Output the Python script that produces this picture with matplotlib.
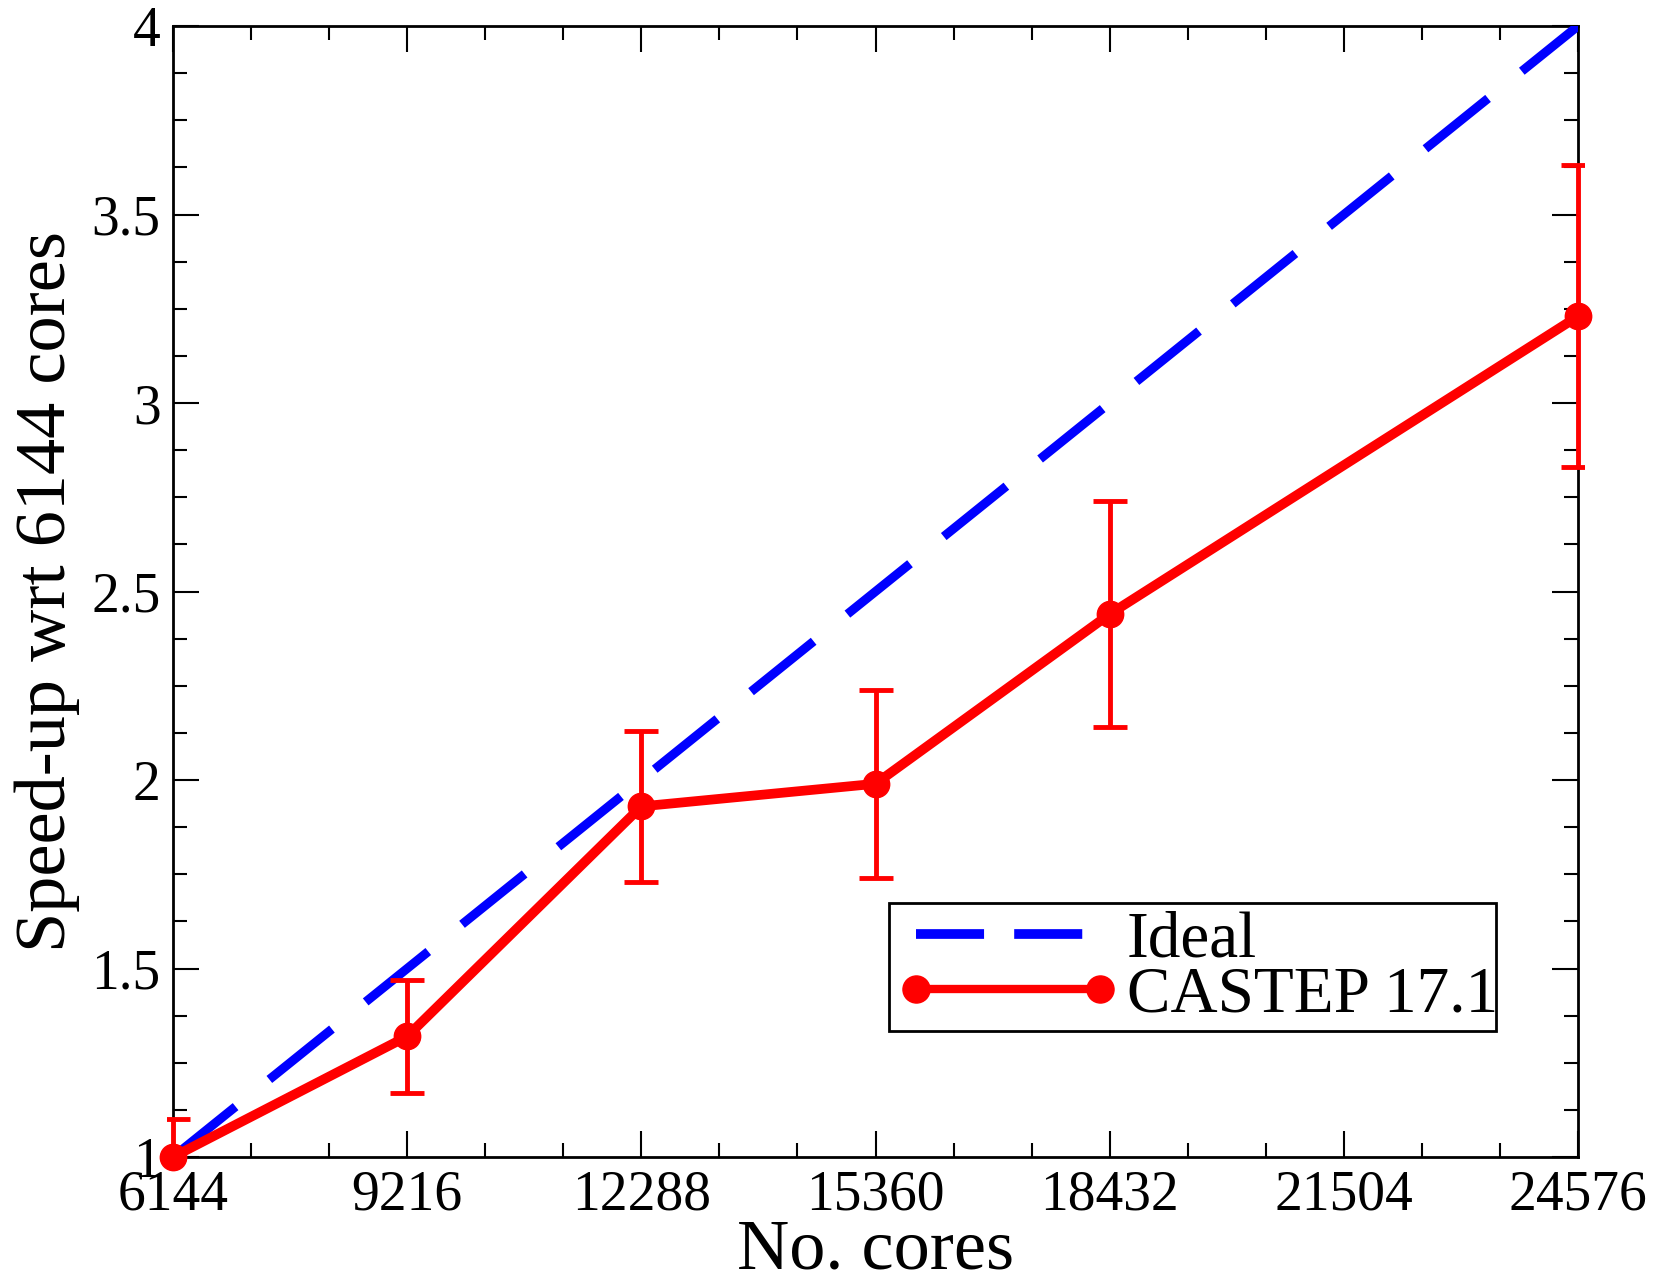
import matplotlib
matplotlib.use("Agg")
import matplotlib.pyplot as plt
from matplotlib.ticker import MultipleLocator
from matplotlib.lines import Line2D
from matplotlib.patches import Rectangle
from matplotlib.transforms import Bbox, TransformedBbox

cores = [6144, 9216, 12288, 15360, 18432, 24576]
speedup = [1.0, 1.32, 1.93, 1.99, 2.44, 3.23]
errors = [0.10, 0.15, 0.20, 0.25, 0.30, 0.40]
ideal_x = [6144, 24576]
ideal_y = [1.0, 4.0]
xticks = [6144, 9216, 12288, 15360, 18432, 21504, 24576]
yticks = [1, 1.5, 2, 2.5, 3, 3.5, 4]
ytick_labels = ["1", "1.5", "2", "2.5", "3", "3.5", "4"]

plt.rcParams['font.family'] = ['Liberation Serif', 'DejaVu Serif']

W, H = 1657, 1277
fig = plt.figure(figsize=(W/100, H/100), dpi=100)
ax = fig.add_axes([173/W, 1 - 1157/H, (1578-173)/W, (1157-26)/H])

RED = '#ff0000'
BLUE = '#0000ff'

ax.plot(ideal_x, ideal_y, color=BLUE, lw=6.5, dashes=(8.9, 4.8),
        solid_capstyle='butt', dash_capstyle='butt', zorder=3)
eb = ax.errorbar(cores, speedup, yerr=errors, color=RED, lw=7, fmt='-',
                 ecolor=RED, elinewidth=3.5, capsize=12, capthick=3.5, zorder=4)
clipbox = TransformedBbox(Bbox([[-0.004, 0.0], [1.004, 1.0]]), ax.transAxes)
data_line, caplines, barcols = eb.lines
for art in list(caplines) + list(barcols):
    art.set_clip_box(clipbox)
ax.plot(cores, speedup, linestyle='none', marker='o', markersize=19,
        color=RED, zorder=5, clip_on=False)

ax.set_xlim(6144, 24576)
ax.set_ylim(1, 4)
ax.set_xticks(xticks)
ax.set_xticklabels([str(v) for v in xticks])
ax.set_yticks(yticks)
ax.set_yticklabels(ytick_labels)
ax.xaxis.set_minor_locator(MultipleLocator(1024))
ax.yaxis.set_minor_locator(MultipleLocator(0.125))
ax.tick_params(which='both', direction='in', top=True, right=True, width=1.5)
ax.tick_params(which='major', length=19, labelsize=40, pad=9)
ax.tick_params(which='minor', length=10)
for s in ax.spines.values():
    s.set_linewidth(2)

ax.set_xlabel('No. cores', fontsize=52, labelpad=-2)
ax.set_ylabel('Speed-up wrt 6144 cores', fontsize=52, labelpad=8)

# legend frame (drawn in figure coordinates, above the data)
frame = Rectangle((889/W, 1 - 1031/H), (1496-889)/W, (1031-903)/H,
                  transform=fig.transFigure, facecolor='white',
                  edgecolor='black', lw=2, zorder=6, clip_on=False)
ax.add_patch(frame)

h_ideal = Line2D([], [], color=BLUE, lw=7, dashes=(7.0, 3.1),
                 dash_capstyle='butt')
h_castep = Line2D([], [], color=RED, lw=6, marker='o', markersize=19.5)
leg = ax.legend([h_ideal, h_castep], ['Ideal', 'CASTEP 17.1'],
                loc='upper left', bbox_to_anchor=(896/W, 1 - 911/H),
                bbox_transform=fig.transFigure, numpoints=2,
                fontsize=47, frameon=False, handlelength=3.42,
                handletextpad=0.12, borderaxespad=0, borderpad=0,
                labelspacing=-0.07)
leg.set_zorder(7)

fig.savefig('out.png', dpi=100)
